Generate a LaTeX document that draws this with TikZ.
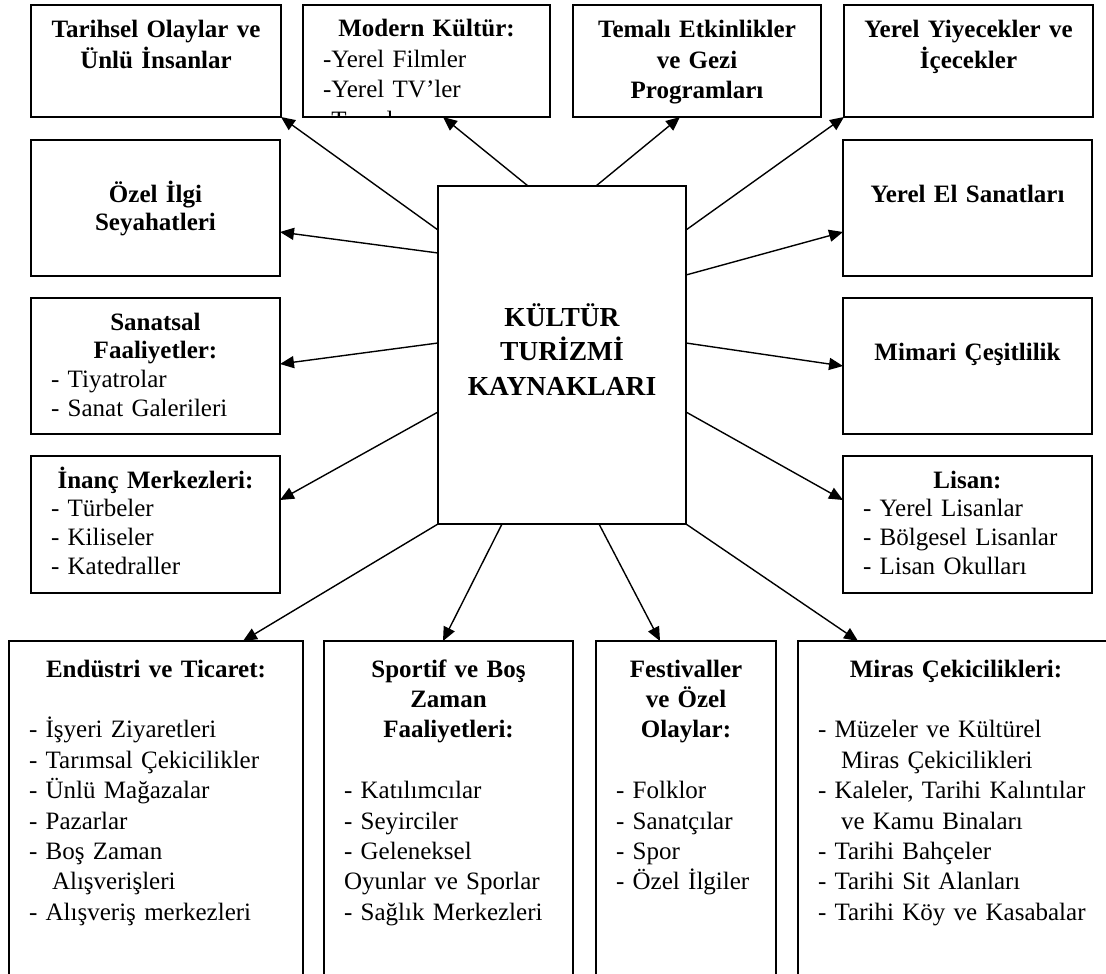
\documentclass[tikz,border=0pt]{standalone}
\usepackage{fontspec}
\setmainfont{Liberation Serif}
\usetikzlibrary{arrows.meta,calc}
\newlength\pxu
\setlength\pxu{0.48pt}
\begin{document}
\begin{tikzpicture}[x=0.48pt,y=-0.48pt]
  \tikzstyle{kutu}=[draw,line width=0.9pt,rectangle,inner sep=0,outer sep=0]
  \tikzstyle{yazi}=[anchor=base,inner sep=0,align=left,font=\fontsize{12}{14.6}\selectfont]
  \tikzstyle{yan}=[yazi,font=\fontsize{12}{13.9}\selectfont]
  \tikzstyle{ok}=[-{Triangle[length=6.7pt,width=5.8pt]},line width=0.67pt]
  \useasboundingbox (0,0) rectangle (1106,973);
  \clip (0,0) rectangle (1106,973);

  \node[kutu,minimum width=248\pxu,minimum height=338\pxu] (B_kaynak) at (562,355) {};
  \node[anchor=base,inner sep=0,align=center,text width=230\pxu,font=\fontsize{13.2}{16.6}\selectfont\bfseries] (T_kaynak) at ($(B_kaynak.north)+(0,140)$) {KÜLTÜR\\ TURİZMİ\\ KAYNAKLARI};

  \node[kutu,minimum width=250\pxu,minimum height=112\pxu] (B_tarih) at (156,61) {};
  \node[kutu,minimum width=247\pxu,minimum height=112\pxu] (B_modern) at (426.5,61) {};
  \node[kutu,minimum width=248\pxu,minimum height=112\pxu] (B_temali) at (697,61) {};
  \node[kutu,minimum width=249\pxu,minimum height=112\pxu] (B_yiyecek) at (968.5,61) {};
  \node[yazi,text width=220\pxu] (T_tarih) at ($(B_tarih.north)+(0,33)$) {\centering\bfseries Tarihsel Olaylar ve\\ Ünlü İnsanlar\par};
  \begin{scope}
    \clip (B_modern.north west) rectangle (B_modern.south east);
    \node[yazi,text width=207\pxu] (T_modern) at ($(B_modern.north)+(0,32)$) {{\centering\bfseries Modern Kültür:\par}-Yerel Filmler\\-Yerel TV’ler\\-Temalı};
  \end{scope}
  \node[yazi,text width=218\pxu] (T_temali) at ($(B_temali.north)+(0,33)$) {\centering\bfseries Temalı Etkinlikler\\ ve Gezi\\ Programları\par};
  \node[yazi,text width=219\pxu] (T_yiyecek) at ($(B_yiyecek.north)+(0,33)$) {\centering\bfseries Yerel Yiyecekler ve\\ İçecekler\par};

  \node[kutu,minimum width=249\pxu,minimum height=136\pxu] (B_ozel) at (155.5,208) {};
  \node[kutu,minimum width=249\pxu,minimum height=136\pxu] (B_sanat) at (155.5,366) {};
  \node[kutu,minimum width=249\pxu,minimum height=137\pxu] (B_inanc) at (155.5,524.5) {};
  \node[yan,text width=219\pxu] (T_ozel) at ($(B_ozel.north)+(0,62)$) {\centering\bfseries Özel İlgi\\ Seyahatleri\par};
  \node[yan,text width=209\pxu] (T_sanat) at ($(B_sanat.north)+(0,32)$) {{\centering\bfseries Sanatsal\\ Faaliyetler:\par}- Tiyatrolar\\- Sanat Galerileri};
  \node[yan,text width=209\pxu] (T_inanc) at ($(B_inanc.north)+(0,32)$) {{\centering\bfseries İnanç Merkezleri:\par}- Türbeler\\- Kiliseler\\- Katedraller};

  \node[kutu,minimum width=249\pxu,minimum height=136\pxu] (B_elsanat) at (967.5,208) {};
  \node[kutu,minimum width=249\pxu,minimum height=136\pxu] (B_mimari) at (967.5,366) {};
  \node[kutu,minimum width=249\pxu,minimum height=137\pxu] (B_lisan) at (967.5,524.5) {};
  \node[yan,text width=219\pxu] (T_elsanat) at ($(B_elsanat.north)+(0,62)$) {\centering\bfseries Yerel El Sanatları\par};
  \node[yan,text width=219\pxu] (T_mimari) at ($(B_mimari.north)+(0,62)$) {\centering\bfseries Mimari Çeşitlilik\par};
  \node[yan,text width=209\pxu] (T_lisan) at ($(B_lisan.north)+(0,32)$) {{\centering\bfseries Lisan:\par}- Yerel Lisanlar\\- Bölgesel Lisanlar\\- Lisan Okulları};

  \node[kutu,minimum width=294\pxu,minimum height=359\pxu] (B_endustri) at (156,820.5) {};
  \node[kutu,minimum width=249\pxu,minimum height=359\pxu] (B_sportif) at (448.5,820.5) {};
  \node[kutu,minimum width=180\pxu,minimum height=359\pxu] (B_festival) at (686,820.5) {};
  \node[kutu,minimum width=316\pxu,minimum height=359\pxu] (B_miras) at (956,820.5) {};
  \node[yazi,text width=254\pxu] (T_endustri) at ($(B_endustri.north)+(0,36)$) {{\centering\bfseries Endüstri ve Ticaret:\par}\vspace{\baselineskip}- İşyeri Ziyaretleri\\- Tarımsal Çekicilikler\\- Ünlü Mağazalar\\- Pazarlar\\- Boş Zaman\\\hspace*{23\pxu}Alışverişleri\\- Alışveriş merkezleri};
  \node[yazi,text width=209\pxu] (T_sportif) at ($(B_sportif.north)+(0,36)$) {{\centering\bfseries Sportif ve Boş\\ Zaman\\ Faaliyetleri:\par}\vspace{\baselineskip}- Katılımcılar\\- Seyirciler\\- Geleneksel\\Oyunlar ve Sporlar\\- Sağlık Merkezleri};
  \node[yazi,text width=140\pxu] (T_festival) at ($(B_festival.north)+(0,36)$) {{\centering\bfseries Festivaller\\ ve Özel\\ Olaylar:\par}\vspace{\baselineskip}- Folklor\\- Sanatçılar\\- Spor\\- Özel İlgiler};
  \node[yazi,text width=276\pxu] (T_miras) at ($(B_miras.north)+(0,36)$) {{\centering\bfseries Miras Çekicilikleri:\par}\vspace{\baselineskip}- Müzeler ve Kültürel\\\hspace*{23\pxu}Miras Çekicilikleri\\- Kaleler, Tarihi Kalıntılar\\\hspace*{23\pxu}ve Kamu Binaları\\- Tarihi Bahçeler\\- Tarihi Sit Alanları\\- Tarihi Köy ve Kasabalar};

  \draw[ok] ($(B_kaynak.north west)+(0,44)$) -- (B_tarih.south east);
  \draw[ok] ($(B_kaynak.north west)+(90,0)$) -- ($(B_modern.south west)+(140,0)$);
  \draw[ok] ($(B_kaynak.north west)+(158,0)$) -- ($(B_temali.south west)+(107,0)$);
  \draw[ok] ($(B_kaynak.north east)+(0,44)$) -- (B_yiyecek.south west);
  \draw[ok] ($(B_kaynak.north west)+(0,67)$) -- ($(B_ozel.north east)+(0,92)$);
  \draw[ok] ($(B_kaynak.north west)+(0,157)$) -- ($(B_sanat.north east)+(0,66)$);
  \draw[ok] ($(B_kaynak.north west)+(0,226)$) -- ($(B_inanc.north east)+(0,44)$);
  \draw[ok] ($(B_kaynak.north east)+(0,89)$) -- ($(B_elsanat.north west)+(0,92)$);
  \draw[ok] ($(B_kaynak.north east)+(0,157)$) -- ($(B_mimari.north west)+(0,68)$);
  \draw[ok] ($(B_kaynak.north east)+(0,226)$) -- ($(B_lisan.north west)+(0,44)$);
  \draw[ok] (B_kaynak.south west) -- ($(B_endustri.north west)+(234,0)$);
  \draw[ok] ($(B_kaynak.south west)+(64,0)$) -- ($(B_sportif.north west)+(119,0)$);
  \draw[ok] ($(B_kaynak.south west)+(161,0)$) -- ($(B_festival.north west)+(64,0)$);
  \draw[ok] (B_kaynak.south east) -- ($(B_miras.north west)+(60,0)$);
\end{tikzpicture}
\end{document}
